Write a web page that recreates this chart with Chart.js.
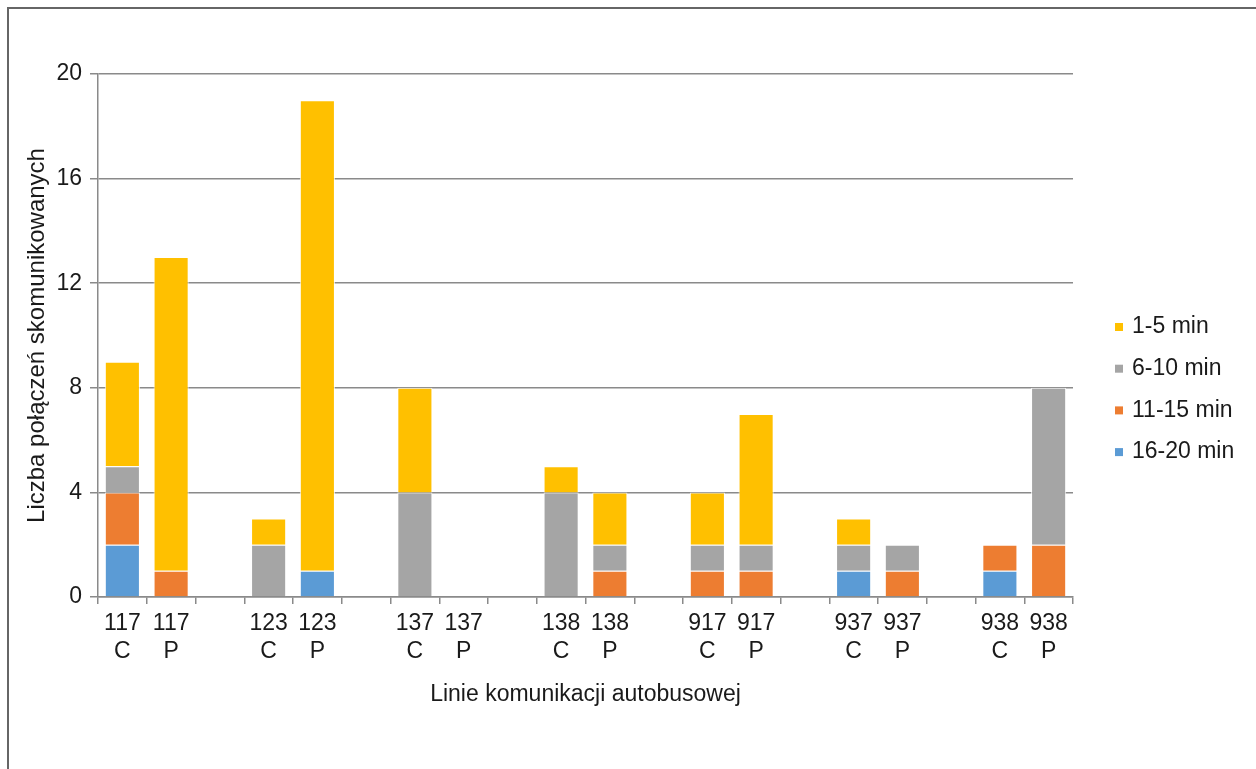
<!DOCTYPE html>
<html>
<head>
<meta charset="utf-8">
<script src="https://cdn.jsdelivr.net/npm/chart.js@4"></script>
<style>
  html, body { margin: 0; padding: 0; background: #ffffff; }
  #wrap { position: relative; width: 1256px; height: 769px; }
  canvas { display: block; }
</style>
</head>
<body>
<div id="wrap"><canvas id="c" width="1256" height="769"></canvas></div>
<script>
// ---- data ----
const lineNumbers = ["117","117","","123","123","","137","137","","138","138","","917","917","","937","937","","938","938"];
const directions  = ["C","P","","C","P","","C","P","","C","P","","C","P","","C","P","","C","P"];
const seriesNames = ["16-20 min","11-15 min","6-10 min","1-5 min"];
const min16_20 = [2,0,null,0,1,null,0,0,null,0,0,null,0,0,null,1,0,null,1,0];
const min11_15 = [2,1,null,0,0,null,0,0,null,0,1,null,1,1,null,0,1,null,1,2];
const min6_10  = [1,0,null,2,0,null,4,0,null,4,1,null,1,1,null,1,1,null,0,6];
const min1_5   = [4,12,null,1,18,null,4,0,null,1,2,null,2,5,null,1,0,null,0,0];
const yTicks = [0,4,8,12,16,20];

const colors = ["#5B9BD5","#ED7D31","#A5A5A5","#FFC000"];
const seriesValues = [min16_20, min11_15, min6_10, min1_5];

const labels = lineNumbers.map((n, i) => n ? [n, directions[i]] : "");

const FONT = "'Liberation Sans', Arial, sans-serif";

const framePlugin = {
  id: 'frame',
  beforeDraw(chart) {
    const ctx = chart.ctx;
    ctx.save();
    ctx.fillStyle = '#ffffff';
    ctx.fillRect(0, 0, chart.width, chart.height);
    ctx.strokeStyle = '#666666';
    ctx.lineWidth = 2;
    ctx.beginPath();
    ctx.moveTo(8, chart.height + 2);
    ctx.lineTo(8, 8);
    ctx.lineTo(chart.width + 2, 8);
    ctx.stroke();
    ctx.restore();
  }
};

const legendPlugin = {
  id: 'customLegend',
  afterDraw(chart) {
    const ctx = chart.ctx;
    ctx.save();
    ctx.font = "23px " + FONT;
    ctx.textBaseline = 'middle';
    ctx.textAlign = 'left';
    const ds = chart.data.datasets.slice().reverse();
    ds.forEach((d, i) => {
      const cy = 327 + i * 41.7;
      ctx.fillStyle = d.backgroundColor;
      ctx.fillRect(1115, cy - 4, 8, 8);
      ctx.fillStyle = '#1a1a1a';
      ctx.fillText(d.label, 1132, cy);
    });
    ctx.restore();
  }
};

new Chart(document.getElementById('c'), {
  type: 'bar',
  data: {
    labels: labels,
    datasets: seriesNames.map((name, i) => ({
      label: name,
      data: seriesValues[i],
      backgroundColor: colors[i],
      borderColor: 'rgba(255,255,255,0.85)',
      borderWidth: 1,
      categoryPercentage: 1.0,
      barPercentage: 0.72
    }))
  },
  options: {
    responsive: false,
    animation: false,
    devicePixelRatio: 1,
    layout: { padding: { top: 74, right: 183, left: 0, bottom: 0 } },
    plugins: {
      legend: { display: false },
      tooltip: { enabled: false }
    },
    scales: {
      x: {
        stacked: true,
        offset: true,
        grid: {
          offset: true,
          drawOnChartArea: false,
          drawTicks: true,
          tickLength: 7,
          color: '#8a8a8a',
          lineWidth: 1.5
        },
        border: { display: true, color: '#8a8a8a', width: 1.5 },
        ticks: {
          autoSkip: false,
          maxRotation: 0,
          minRotation: 0,
          padding: 6,
          color: '#1a1a1a',
          font: { family: FONT, size: 23, lineHeight: 1.2 }
        },
        title: {
          display: true,
          text: 'Linie komunikacji autobusowej',
          color: '#1a1a1a',
          font: { family: FONT, size: 23, lineHeight: 1.2 },
          padding: { top: 0, bottom: 61 }
        },
        afterFit(scale) { scale.height = 769 - 597; }
      },
      y: {
        stacked: true,
        min: 0,
        max: 20,
        afterBuildTicks(scale) { scale.ticks = yTicks.map(v => ({ value: v })); },
        grid: {
          color: '#8a8a8a',
          lineWidth: 1.5,
          drawTicks: true,
          tickLength: 8
        },
        border: { display: true, color: '#8a8a8a', width: 1.5 },
        ticks: {
          padding: 8,
          color: '#1a1a1a',
          font: { family: FONT, size: 23 }
        },
        title: {
          display: true,
          text: 'Liczba połączeń skomunikowanych',
          color: '#1a1a1a',
          font: { family: FONT, size: 24, lineHeight: 1.2 },
          padding: { top: 23, bottom: 0 }
        },
        afterFit(scale) { scale.width = 98; }
      }
    }
  },
  plugins: [framePlugin, legendPlugin]
});
</script>
</body>
</html>
